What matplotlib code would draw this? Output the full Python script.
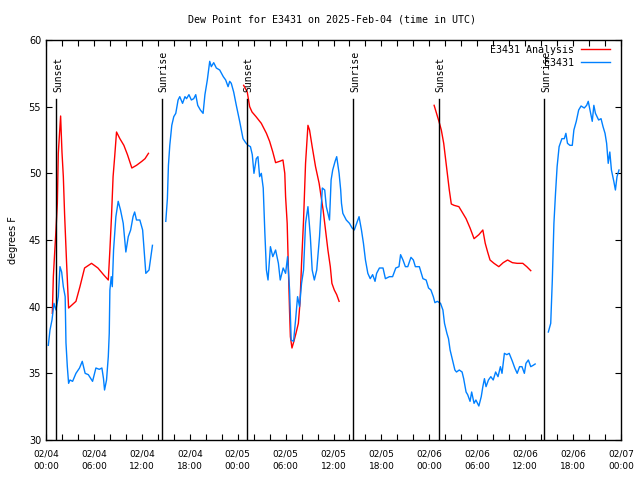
import numpy as np
import matplotlib
matplotlib.use("Agg")
import matplotlib.pyplot as plt
from matplotlib.ticker import MultipleLocator

# hours since 2025-02-04 00:00 UTC
obs_hours = [
    0.29, 0.5, 0.75, 1.0, 1.25, 1.54, 1.75, 1.96, 2.17, 2.4, 2.5, 2.67, 2.83, 3.0, 3.33, 3.75,
    4.2, 4.54, 4.9, 5.3, 5.83, 6.25, 6.67, 7.0, 7.2, 7.33, 7.58, 7.8, 7.92, 8.0, 8.17, 8.3,
    8.46, 8.75, 9.04, 9.33, 9.67, 10.0, 10.3, 10.6, 10.9, 11.1, 11.33, 11.75, 12.1, 12.5,
    12.9, 13.33,
    np.nan,
    15.0, 15.2, 15.33, 15.5, 15.75, 16.0, 16.25, 16.54, 16.75, 17.1, 17.4, 17.6, 17.9, 18.2,
    18.5, 18.75, 19.0, 19.33, 19.67, 19.9, 20.2, 20.5, 20.7, 21.0, 21.33, 21.75, 22.2, 22.5,
    22.8, 23.0, 23.2, 23.5, 23.83, 24.25, 24.67, 25.0, 25.3, 25.6, 25.83, 26.04, 26.33, 26.54,
    26.75, 26.96, 27.2, 27.4, 27.6, 27.8, 28.1, 28.4, 28.75, 29.1, 29.33, 29.7, 30.0, 30.25,
    30.5, 30.7, 31.0, 31.25, 31.5, 31.75, 32.0, 32.25, 32.5, 32.8, 33.1, 33.33, 33.6, 33.9,
    34.25, 34.6, 34.9, 35.1, 35.5, 35.7, 35.9, 36.2, 36.4, 36.7, 36.9, 37.0, 37.17, 37.6,
    38.0, 38.33, 38.6, 38.9, 39.2, 39.5, 39.75, 40.0, 40.3, 40.6, 40.9, 41.2, 41.4, 41.75,
    42.2, 42.5, 43.0, 43.4, 43.8, 44.2, 44.4, 44.7, 45.0, 45.3, 45.7, 46.0, 46.25, 46.75,
    47.2, 47.6, 47.9, 48.2, 48.5, 48.7, 49.0, 49.4, 49.7, 49.9, 50.2, 50.4, 50.6, 50.9,
    51.2, 51.4, 51.75, 52.1, 52.3, 52.6, 52.8, 53.1, 53.3, 53.6, 53.83, 54.2, 54.5, 54.7,
    54.9, 55.1, 55.4, 55.7, 56.0, 56.3, 56.6, 56.9, 57.1, 57.4, 57.7, 58.0, 58.4, 58.7,
    59.0, 59.3, 59.6, 59.9, 60.1, 60.4, 60.7, 61.0, 61.25,
    np.nan,
    62.9, 63.2, 63.4, 63.6, 63.8, 64.0, 64.25, 64.6, 64.9, 65.1, 65.3, 65.6, 65.9, 66.1,
    66.4, 66.7, 67.0, 67.4, 67.7, 67.9, 68.2, 68.4, 68.6, 68.8, 69.2, 69.5, 69.75, 70.0,
    70.2, 70.4, 70.6, 70.8, 71.1, 71.3, 71.5, 71.75,
]
obs_values = [
    37.1, 38.25, 39.0, 40.25, 39.75, 40.75, 43.0, 42.6, 41.5, 40.75, 37.3, 35.5, 34.25, 34.5,
    34.4, 35.0, 35.4, 35.9, 35.0, 34.9, 34.4, 35.4, 35.3, 35.4, 34.6, 33.75, 34.5, 36.25,
    38.0, 41.25, 42.25, 41.5, 44.25, 46.75, 47.9, 47.25, 46.25, 44.1, 45.25, 45.75, 46.75,
    47.1, 46.5, 46.5, 45.75, 42.5, 42.75, 44.6,
    np.nan,
    46.4, 48.1, 50.6, 52.1, 53.6, 54.25, 54.5, 55.5, 55.75, 55.25, 55.75, 55.6, 55.9, 55.5,
    55.6, 55.9, 55.1, 54.75, 54.5, 55.9, 57.0, 58.4, 58.0, 58.3, 57.9, 57.75, 57.25, 57.0,
    56.5, 56.9, 56.75, 56.1, 55.1, 53.9, 52.6, 52.3, 52.1, 52.0, 51.4, 50.0, 51.1, 51.25,
    49.75, 50.0, 48.9, 45.6, 42.75, 42.0, 44.5, 43.75, 44.25, 43.25, 42.0, 42.9, 42.5, 43.75,
    41.25, 37.5, 37.4, 39.0, 40.75, 40.0, 41.75, 42.75, 46.25, 47.5, 45.25, 42.75, 42.0, 42.75,
    45.25, 48.9, 48.75, 47.5, 46.5, 49.5, 50.25, 50.9, 51.25, 50.0, 48.75, 47.75, 47.0, 46.5,
    46.25, 45.9, 45.75, 46.25, 46.75, 45.75, 44.75, 43.5, 42.5, 42.1, 42.4, 41.9, 42.5, 42.9,
    42.9, 42.1, 42.25, 42.25, 42.9, 43.0, 43.9, 43.5, 43.0, 43.0, 43.7, 43.5, 43.0, 43.0,
    42.1, 42.0, 41.4, 41.25, 40.75, 40.3, 40.4, 40.25, 39.75, 38.75, 38.0, 37.6, 36.75, 36.0,
    35.25, 35.1, 35.25, 35.1, 34.6, 33.6, 33.4, 32.9, 33.6, 32.75, 33.0, 32.55, 33.25, 34.0,
    34.6, 34.0, 34.5, 34.75, 34.5, 35.1, 34.75, 35.5, 35.0, 36.5, 36.4, 36.5, 35.9, 35.4,
    35.0, 35.5, 35.5, 35.0, 35.75, 36.0, 35.5, 35.6, 35.7,
    np.nan,
    38.1, 38.75, 42.0, 46.25, 48.5, 50.5, 52.0, 52.6, 52.6, 53.0, 52.25, 52.1, 52.1, 53.25,
    53.9, 54.75, 55.05, 54.9, 55.1, 55.4, 54.5, 53.9, 55.1, 54.5, 54.0, 54.1, 53.5, 53.0,
    52.25, 50.75, 51.6, 50.25, 49.4, 48.75, 49.75, 50.25,
]

ana_hours = [
    0.79, 0.92, 1.08, 1.25, 1.42, 1.54, 1.83, 2.0, 2.17, 2.33, 2.58, 2.83, 3.2, 3.75, 4.25,
    4.83, 5.7, 6.5, 7.2, 7.8, 8.0, 8.2, 8.4, 8.6, 8.83, 9.25, 9.75, 10.2, 10.75, 11.33, 12.0,
    12.4, 12.83,
    np.nan,
    24.75, 25.2, 25.5, 25.8, 26.3, 26.96, 27.6, 28.0, 28.4, 28.75, 29.25, 29.67, 29.9, 30.0,
    30.2, 30.3, 30.5, 30.6, 30.8, 31.04, 31.3, 31.6, 31.8, 32.0, 32.25, 32.5, 32.8, 33.0,
    33.33, 33.75, 34.2, 34.7, 35.0, 35.3, 35.6, 35.8, 36.1, 36.4, 36.7,
    np.nan,
    48.6, 48.9, 49.2, 49.5, 49.8, 50.0, 50.3, 50.5, 50.75, 51.1, 51.7, 52.1, 52.6, 53.1,
    53.6, 54.2, 54.7, 55.0, 55.3, 55.6, 56.1, 56.7, 57.25, 57.8, 58.4, 59.0, 59.7, 60.2, 60.7,
]
ana_values = [
    39.5, 42.25, 44.0, 45.75, 47.75, 51.5, 54.3, 51.6, 49.75, 46.9, 43.25, 39.9, 40.1, 40.4,
    41.5, 42.9, 43.25, 42.9, 42.4, 42.0, 44.25, 46.75, 49.75, 51.25, 53.1, 52.6, 52.1, 51.4,
    50.4, 50.6, 50.9, 51.1, 51.5,
    np.nan,
    56.6, 56.1, 55.0, 54.6, 54.25, 53.75, 53.0, 52.4, 51.6, 50.8, 50.9, 51.0, 50.0, 48.25,
    46.25, 44.0, 39.6, 37.75, 36.9, 37.4, 38.0, 38.75, 40.25, 43.25, 46.5, 50.75, 53.6, 53.25,
    52.0, 50.5, 49.25, 47.25, 45.75, 44.25, 43.0, 41.75, 41.25, 40.9, 40.4,
    np.nan,
    55.1, 54.5, 53.9, 53.25, 52.25, 51.25, 49.75, 48.75, 47.7, 47.6, 47.5, 47.1, 46.6, 45.9,
    45.1, 45.4, 45.75, 44.75, 44.1, 43.5, 43.25, 43.0, 43.3, 43.5, 43.3, 43.25, 43.25, 43.0, 42.7,
]

sun_hours = [1.3, 14.5, 25.2, 38.5, 49.2, 62.4]
sun_labels = ["Sunset", "Sunrise", "Sunset", "Sunrise", "Sunset", "Sunrise"]

tick_hours = list(range(0, 73, 6))
tick_labels = ["02/04\n00:00", "02/04\n06:00", "02/04\n12:00", "02/04\n18:00",
               "02/05\n00:00", "02/05\n06:00", "02/05\n12:00", "02/05\n18:00",
               "02/06\n00:00", "02/06\n06:00", "02/06\n12:00", "02/06\n18:00",
               "02/07\n00:00"]
y_ticks = [30, 35, 40, 45, 50, 55, 60]

mono = "DejaVu Sans Mono"

fig = plt.figure(figsize=(6.4, 4.8), dpi=100)
ax = fig.add_axes([46 / 640, 40 / 480, 575 / 640, 400 / 480])

ax.plot(ana_hours, ana_values, color="#ff0000", lw=1.0, label="E3431 Analysis")
ax.plot(obs_hours, obs_values, color="#0080ff", lw=1.0, label="E3431")

for h, lab in zip(sun_hours, sun_labels):
    ax.plot([h, h], [30, 55.55], color="black", lw=1.0)
    ax.text(h + 0.2, 56.1, lab, rotation=90, ha="center", va="bottom",
            fontsize=7, family=mono)

ax.set_xlim(0, 72)
ax.set_ylim(30, 60)
ax.set_xticks(tick_hours)
ax.set_xticklabels(tick_labels, fontsize=6.5, linespacing=1.5)
ax.xaxis.set_minor_locator(MultipleLocator(2))
ax.set_yticks(y_ticks)
ax.set_yticklabels([str(v) for v in y_ticks], fontsize=7)
ax.tick_params(which="both", direction="in", top=True, right=True, length=4, width=0.8)
ax.tick_params(axis="x", pad=7)
for s in ax.spines.values():
    s.set_linewidth(1.0)

ax.set_ylabel("degrees F", fontsize=7, labelpad=8)
fig.text(332 / 640, 1 - 19 / 480, "Dew Point for E3431 on 2025-Feb-04 (time in UTC)",
         ha="center", va="center", fontsize=7.2, family=mono)

leg = ax.legend(loc="upper right", bbox_to_anchor=(564 / 575, (440 - 45) / 400),
                frameon=False, markerfirst=False,
                prop={"family": mono, "size": 7.2}, handlelength=2.9,
                handletextpad=0.7, labelspacing=0.28, borderaxespad=0.0,
                borderpad=0.0)
for t in leg.get_texts():
    t.set_ha("right")
leg._legend_box.align = "right"

fig.savefig("out.png", dpi=100)
